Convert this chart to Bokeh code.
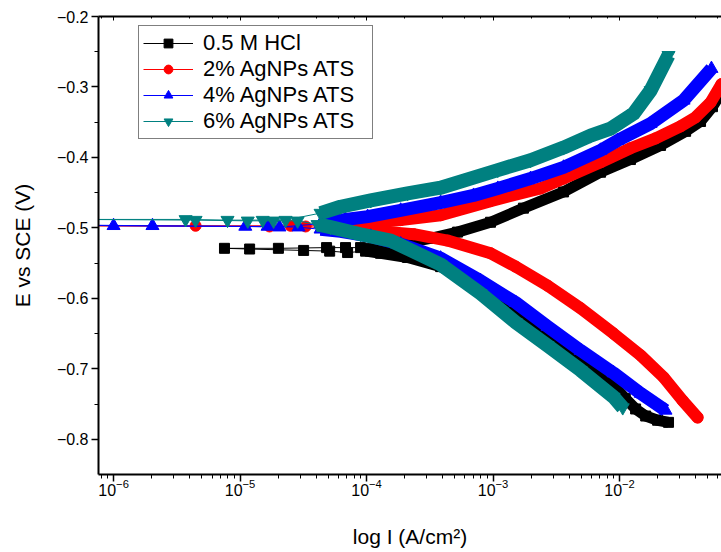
from bokeh.plotting import figure
from bokeh.models import Range1d, LogAxis, FixedTicker, Legend, LegendItem
from bokeh.embed import file_html
from bokeh.resources import INLINE

# ---------------- data (current density I in A/cm2, potential E in V vs SCE) -------------
series_names = ["0.5 M HCl", "2% AgNPs ATS", "4% AgNPs ATS", "6% AgNPs ATS"]

# 0.5 M HCl (black squares)
hcl_cath_I = [2.44e-2, 2.00e-2, 1.61e-2, 1.34e-2, 1.11e-2, 8.97e-3, 4.92e-3, 2.70e-3,
              1.45e-3, 7.96e-4, 3.85e-4, 2.11e-4, 1.29e-4, 9.82e-5]
hcl_cath_E = [-0.776, -0.773, -0.767, -0.757, -0.742, -0.723, -0.688, -0.654,
              -0.617, -0.584, -0.555, -0.542, -0.536, -0.533]
hcl_mid_I = [7.08e-5, 5.11e-5, 3.18e-5, 1.19e-5, 7.53e-6, 2.01e-5, 4.83e-5, 6.82e-5, 8.97e-5]
hcl_mid_E = [-0.535, -0.533, -0.532, -0.530, -0.529, -0.529, -0.528, -0.528, -0.528]
hcl_anod_I = [1.08e-4, 1.86e-4, 3.21e-4, 5.24e-4, 9.55e-4, 1.74e-3, 3.61e-3, 7.08e-3,
              1.22e-2, 2.11e-2, 3.33e-2, 4.37e-2, 5.43e-2, 6.40e-2]
hcl_anod_E = [-0.529, -0.523, -0.515, -0.506, -0.492, -0.472, -0.449, -0.421,
              -0.403, -0.383, -0.363, -0.349, -0.328, -0.308]

# 2% AgNPs ATS (red circles)
ag2_cath_I = [4.14e-2, 3.15e-2, 2.23e-2, 1.47e-2, 8.97e-3, 4.92e-3, 2.70e-3, 1.51e-3,
              9.55e-4, 4.37e-4, 2.36e-4, 1.29e-4, 6.22e-5]
ag2_cath_E = [-0.769, -0.745, -0.712, -0.681, -0.650, -0.614, -0.582, -0.555,
              -0.536, -0.518, -0.509, -0.505, -0.502]
ag2_mid_I = [3.30e-5, 1.71e-5, 5.0e-7, 4.45e-6, 2.51e-5]
ag2_mid_E = [-0.498, -0.498, -0.497, -0.497, -0.497]
ag2_anod_I = [5.19e-5, 8.97e-5, 1.86e-4, 3.85e-4, 9.55e-4, 2.37e-3, 3.61e-3, 7.08e-3,
              1.22e-2, 1.93e-2, 3.03e-2, 3.99e-2, 5.24e-2, 6.40e-2]
ag2_anod_E = [-0.497, -0.494, -0.489, -0.482, -0.462, -0.444, -0.430, -0.407,
              -0.387, -0.373, -0.356, -0.343, -0.322, -0.296]

# 4% AgNPs ATS (blue up-triangles)
ag4_cath_I = [2.31e-2, 1.47e-2, 8.97e-3, 4.92e-3, 2.70e-3, 1.51e-3, 7.96e-4, 3.85e-4,
              1.86e-4, 1.08e-4, 6.22e-5, 4.33e-5]
ag4_cath_E = [-0.759, -0.735, -0.706, -0.674, -0.640, -0.606, -0.575, -0.543,
              -0.523, -0.512, -0.505, -0.502]
ag4_mid_I = [2.90e-5, 1.65e-5, 2.03e-6, 5.0e-7, 1.0e-6, 1.10e-5, 2.05e-5]
ag4_mid_E = [-0.499, -0.498, -0.497, -0.496, -0.497, -0.498, -0.499]
ag4_anod_I = [4.33e-5, 6.82e-5, 1.02e-4, 1.86e-4, 3.85e-4, 7.01e-4, 1.09e-3, 1.98e-3,
              3.61e-3, 7.08e-3, 9.64e-3, 1.76e-2, 3.21e-2, 5.33e-2]
ag4_anod_E = [-0.494, -0.488, -0.484, -0.475, -0.464, -0.454, -0.444, -0.430,
              -0.414, -0.390, -0.376, -0.352, -0.319, -0.274]

# 6% AgNPs ATS (teal down-triangles)
ag6_cath_I = [1.06e-2, 8.97e-3, 4.92e-3, 2.70e-3, 1.51e-3, 7.96e-4, 3.85e-4, 1.55e-4,
              8.97e-5, 5.19e-5, 4.10e-5]
ag6_cath_E = [-0.755, -0.740, -0.702, -0.667, -0.634, -0.593, -0.552, -0.518,
              -0.509, -0.499, -0.495]
ag6_mid_I = [2.85e-5, 1.84e-5, 1.15e-5, 4.45e-6, 5.0e-7, 3.71e-6, 7.96e-6, 1.51e-5, 2.29e-5]
ag6_mid_E = [-0.490, -0.490, -0.490, -0.489, -0.488, -0.488, -0.489, -0.489, -0.489]
ag6_anod_I = [4.33e-5, 6.22e-5, 1.08e-4, 2.11e-4, 3.85e-4, 1.09e-3, 1.98e-3, 3.61e-3,
              5.90e-3, 8.49e-3, 1.29e-2, 1.76e-2, 2.44e-2]
ag6_anod_E = [-0.479, -0.470, -0.461, -0.451, -0.443, -0.418, -0.404, -0.386,
              -0.369, -0.359, -0.338, -0.305, -0.255]

y_ticks = [-0.8, -0.7, -0.6, -0.5, -0.4, -0.3, -0.2]
y_minor_ticks = [-0.75, -0.65, -0.55, -0.45, -0.35, -0.25]

# ---------------- figure ----------------
FONT = "Liberation Sans"
p = figure(width=721, height=552, x_axis_type="log",
           x_range=Range1d(7.6e-7, 6.4e-2), y_range=Range1d(-0.85, -0.2),
           output_backend="svg", toolbar_location=None,
           min_border_left=98, min_border_right=0, min_border_top=16, min_border_bottom=78)
p.outline_line_color = None
p.grid.visible = False
p.background_fill_color = "white"

styles = [
    ("black", "square", 10, 11, "butt"),
    ("#ff0000", "circle", 11, 12, "round"),
    ("#0000ff", "triangle", 13, 13, "butt"),
    ("#008080", "inverted_triangle", 13, 14, "butt"),
]
data = [
    (hcl_cath_I, hcl_cath_E, hcl_mid_I, hcl_mid_E, hcl_anod_I, hcl_anod_E),
    (ag2_cath_I, ag2_cath_E, ag2_mid_I, ag2_mid_E, ag2_anod_I, ag2_anod_E),
    (ag4_cath_I, ag4_cath_E, ag4_mid_I, ag4_mid_E, ag4_anod_I, ag4_anod_E),
    (ag6_cath_I, ag6_cath_E, ag6_mid_I, ag6_mid_E, ag6_anod_I, ag6_anod_E),
]

items = []
for name, (color, marker, msize, bw, cap), (cI, cE, mI, mE, aI, aE) in zip(series_names, styles, data):
    all_I = cI + mI + aI
    all_E = cE + mE + aE
    thin = p.line(all_I, all_E, line_width=1, color=color)
    p.line(cI, cE, line_width=bw, color=color, line_join="round", line_cap=cap)
    p.line(aI, aE, line_width=bw, color=color, line_join="round", line_cap=cap)
    sc = p.scatter(all_I, all_E, marker=marker, size=msize, fill_color=color, line_color=color)
    items.append(LegendItem(label=name, renderers=[thin, sc]))

# ---------------- axes ----------------
xa = p.xaxis[0]
xa.axis_label = "log I (A/cm²)"
ya = p.yaxis[0]
ya.axis_label = "E vs SCE (V)"
ya.ticker = FixedTicker(ticks=y_ticks, minor_ticks=y_minor_ticks)

for ax in (xa, ya):
    ax.axis_line_width = 2
    ax.axis_line_color = "black"
    ax.major_tick_line_color = "black"
    ax.minor_tick_line_color = "black"
    ax.major_tick_line_width = 1.5
    ax.major_tick_out = 7
    ax.major_tick_in = 0
    ax.minor_tick_out = 4
    ax.minor_tick_in = 0
    ax.major_label_text_font = FONT
    ax.major_label_text_font_size = "16px"
    ax.major_label_text_color = "black"
    ax.axis_label_text_font = FONT
    ax.axis_label_text_font_size = "21px"
    ax.axis_label_text_font_style = "normal"
    ax.axis_label_text_color = "black"

xa.major_label_standoff = -3
xa.axis_label_standoff = 26
ya.major_label_standoff = 3
ya.axis_label_standoff = 20

top = LogAxis(major_label_text_font_size="1px", major_label_text_alpha=0,
              major_label_standoff=0,
              major_tick_in=4, major_tick_out=0, minor_tick_in=2, minor_tick_out=0,
              axis_line_width=2, axis_line_color="black")
p.add_layout(top, "above")

legend = Legend(items=items, location=(40, 335))
legend.label_text_font = FONT
legend.label_text_font_size = "22px"
legend.label_text_color = "black"
legend.glyph_width = 50
legend.glyph_height = 22
legend.label_height = 22
legend.label_width = 165
legend.spacing = 0
legend.padding = 4
legend.margin = 0
legend.label_standoff = 10
legend.border_line_color = "black"
legend.border_line_width = 1
legend.background_fill_color = "white"
legend.background_fill_alpha = 1
p.add_layout(legend, "center")

open("out.html", "w").write(file_html(p, INLINE))
